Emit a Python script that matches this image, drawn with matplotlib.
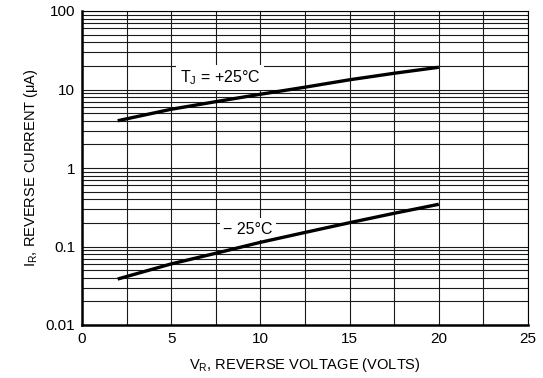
import matplotlib
matplotlib.use("Agg")
import matplotlib.pyplot as plt
from matplotlib.ticker import FixedLocator, NullFormatter, LogLocator
import numpy as np

plt.rcParams['font.family'] = ['Liberation Sans', 'DejaVu Sans']
plt.rcParams['mathtext.fontset'] = 'custom'
plt.rcParams['mathtext.rm'] = 'Liberation Sans'
plt.rcParams['mathtext.default'] = 'regular'

# Data
voltage = [2, 5, 7.5, 10, 12.5, 15, 17.5, 20]
current_p25 = [4.0, 5.6, 7.0, 8.7, 10.7, 13.3, 16.1, 19.2]
current_m25 = [0.0385, 0.060, 0.082, 0.113, 0.151, 0.201, 0.265, 0.345]

x_ticks = [0, 5, 10, 15, 20, 25]
y_ticks = [0.01, 0.1, 1, 10, 100]
y_tick_labels = ['0.01', '0.1', '1', '10', '100']
label_p25 = r'T$_J$ = +25°C'
label_m25 = '− 25°C'

fig = plt.figure(figsize=(5.43, 3.78), dpi=100)
ax = fig.add_axes([82/543, 1-325/378, (528-82)/543, (325-11)/378])

ax.set_yscale('log')
ax.set_xlim(0, 25)
ax.set_ylim(0.01, 100)

# grid
ax.xaxis.set_major_locator(FixedLocator(x_ticks))
ax.xaxis.set_minor_locator(FixedLocator(np.arange(0, 25.01, 2.5)))
ax.yaxis.set_major_locator(FixedLocator(y_ticks))
ax.yaxis.set_minor_locator(LogLocator(base=10, subs=np.arange(2, 10)))
ax.yaxis.set_minor_formatter(NullFormatter())
ax.set_xticklabels([str(v) for v in x_ticks])
ax.set_yticklabels(y_tick_labels)
ax.grid(which='both', color='#1a1a1a', linewidth=0.8)
ax.set_axisbelow(True)
ax.tick_params(which='both', length=0, labelsize=11)
ax.tick_params(axis='y', pad=5)
ax.tick_params(axis='x', pad=5)

for s in ['left', 'bottom']:
    ax.spines[s].set_linewidth(1.8)
for s in ['top', 'right']:
    ax.spines[s].set_linewidth(0.8)

ax.plot(voltage, current_p25, color='black', linewidth=2.4, solid_capstyle='butt', zorder=3)
ax.plot(voltage, current_m25, color='black', linewidth=2.4, solid_capstyle='butt', zorder=3)

box = dict(facecolor='white', edgecolor='none', pad=2.5)
ax.text(7.75, 14.2, label_p25, ha='center', va='center', fontsize=11.5, bbox=box, zorder=2)
ax.text(9.3, 0.166, label_m25, ha='center', va='center', fontsize=11.5, bbox=box, zorder=2)

ax.set_xlabel(r'V$_R$, REVERSE VOLTAGE (VOLTS)', fontsize=10.5, labelpad=7)
ax.set_ylabel(r'I$_R$, REVERSE CURRENT (μA)', fontsize=10.5, labelpad=4)

fig.savefig('out.png', dpi=100)
